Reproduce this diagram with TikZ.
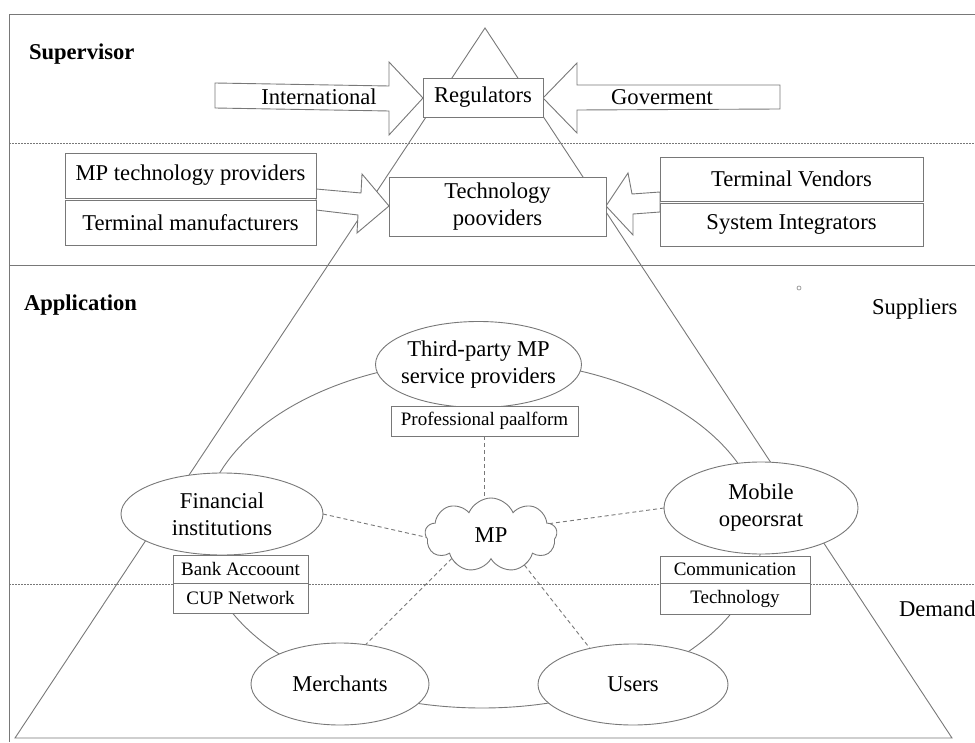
\documentclass[tikz,border=0pt]{standalone}
\usepackage{fontspec}
\setmainfont{Liberation Serif}
\usetikzlibrary{shapes.geometric,shapes.symbols}
\definecolor{lineg}{RGB}{120,120,120}

\begin{document}
\begin{tikzpicture}[x=1pt,y=-1pt,
  every node/.style={inner sep=0pt, outer sep=0pt},
  bigfont/.style={font=\fontsize{22.6}{27}\selectfont},
  smallfont/.style={font=\fontsize{19}{22}\selectfont},
  frameline/.style={draw=lineg, line width=0.9pt},
  sepdots/.style={draw=lineg, line width=0.9pt, dash pattern=on 1.5pt off 1.5pt},
  conn/.style={draw=lineg, line width=0.9pt, dash pattern=on 4pt off 3pt},
  boxn/.style={draw=lineg, fill=white, line width=0.9pt, rectangle, bigfont, align=center},
  tagbox/.style={draw=lineg, fill=white, line width=0.9pt, rectangle, smallfont},
  oval/.style={draw=lineg, fill=white, line width=0.9pt, ellipse},
  ovaltext/.style={label={[bigfont, align=center]center:#1}},
  blockarrow/.style={draw=lineg, fill=white, line width=0.9pt, line join=miter},
  lbl/.style={bigfont, anchor=base west},
  heading/.style={font=\fontsize{22.6}{27}\selectfont\bfseries, anchor=base west},
]
\useasboundingbox (0,0) rectangle (975,743);

% outer frame
\draw[frameline] (975,14) -- (9,14) -- (9,742);

% layer separators
\draw[sepdots] (9,143) -- (975,143);
\draw[frameline] (9,265) -- (975,265);
\draw[sepdots] (9,584) -- (975,584);

% pyramid
\draw[frameline, line join=miter] (485,28) -- (15,738) -- (952,738) -- cycle;

% ring linking the market participants
\draw[frameline] (482,534) ellipse [x radius=280pt, y radius=174pt];

% small mark
\draw[lineg!70, line width=0.8pt] (799,288) circle [radius=2pt];

% supervisor tier arrows
\draw[blockarrow] (215,83) -- (389,86) -- (389,62) -- (423,98) -- (389,135)
  -- (389,111) -- (215,108) -- cycle;
\draw[blockarrow] (780,85) -- (577,85) -- (577,63) -- (543,98) -- (577,133)
  -- (577,110) -- (780,109) -- cycle;

% technology tier arrows
\draw[blockarrow] (316,189) -- (361,193) -- (362,174) -- (389,206) -- (357,233)
  -- (358,215) -- (316,210) -- cycle;
\draw[blockarrow] (606,206) -- (628,173) -- (632,194) -- (660,192) -- (660,212)
  -- (633,214) -- (633,235) -- cycle;

% supervisor tier
\node[boxn, minimum width=120pt, minimum height=39pt] (reg) at (483,97.5) {Regulators};
\node[bigfont] (intl) at (319,97) {International};
\node[bigfont] (gov) at (662,97) {Goverment};

% technology tier
\node[boxn, minimum width=251pt, minimum height=45pt] (mptp) at (190.5,175.5) {MP technology providers};
\node[boxn, minimum width=251pt, minimum height=45pt] (tman) at (190.5,222.5) {Terminal manufacturers};
\node[boxn, minimum width=217pt, minimum height=59pt] (tech) at (497.5,206.5) {Technology\\pooviders};
\node[boxn, minimum width=263pt, minimum height=44pt] (tven) at (791.5,179) {Terminal Vendors};
\node[boxn, minimum width=263pt, minimum height=43pt] (sint) at (791.5,224.5) {System Integrators};

% application tier
\node[oval, minimum width=206pt, minimum height=86pt,
  ovaltext={Third-party MP\\service providers}] (tpp) at (478.5,364.5) {};
\node[tagbox, minimum width=187pt, minimum height=30pt] (prof) at (484.5,421) {Professional paalform};

\node[oval, minimum width=202pt, minimum height=82pt,
  ovaltext={Financial\\institutions}] (fin) at (222,514) {};
\node[tagbox, minimum width=135pt, minimum height=28pt] (bank) at (240.5,569) {Bank Accoount};
\node[tagbox, minimum width=135pt, minimum height=30pt] (cup) at (240.5,598) {CUP Network};

\node[oval, minimum width=194pt, minimum height=92pt,
  ovaltext={Mobile\\opeorsrat}] (mob) at (761,508) {};
\node[tagbox, minimum width=150pt, minimum height=27pt] (comm) at (735,569.5) {Communication};
\node[tagbox, minimum width=150pt, minimum height=31pt] (techn) at (735,598.5) {Technology};

\node[oval, minimum width=178pt, minimum height=82pt, ovaltext={Merchants}] (mer) at (340,684) {};
\node[oval, minimum width=190pt, minimum height=81pt, ovaltext={Users}] (usr) at (633,684.5) {};

\node[draw=lineg, fill=white, line width=0.9pt, cloud, cloud puffs=9, cloud puff arc=135,
  cloud ignores aspect, minimum width=132pt, minimum height=74pt, bigfont] (mp) at (491,535) {MP};

% links to the payment hub
\draw[conn] (prof.south) -- (prof.south |- mp.north);
\draw[conn] (fin.east) -- (mp.182);
\draw[conn] (mob.west) -- (mp.11);
\draw[conn] (mp.211) -- (mer.57);
\draw[conn] (mp.318) -- (usr.140);

% tier labels
\node[heading] (sup) at (29,60) {Supervisor};
\node[heading] (app) at (24,311) {Application};
\node[lbl] (supp) at (872,315) {Suppliers};
\node[lbl] (dem) at (899,616) {Demand};
\end{tikzpicture}
\end{document}
